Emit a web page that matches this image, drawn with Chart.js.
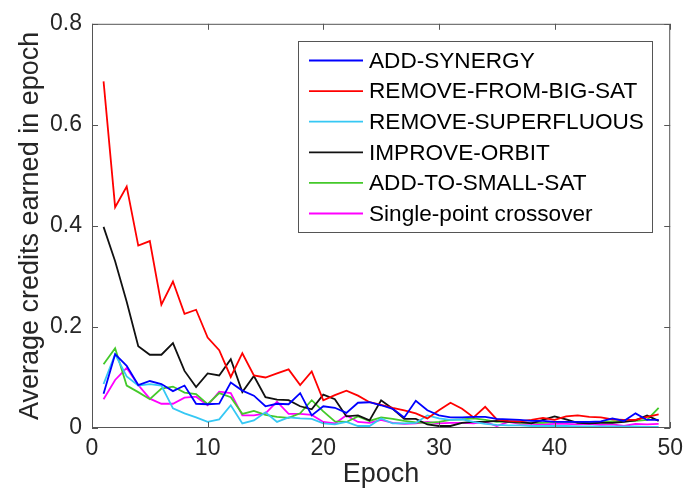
<!DOCTYPE html>
<html>
<head>
<meta charset="utf-8">
<script src="https://cdn.jsdelivr.net/npm/chart.js@4"></script>
<style>
  html, body { margin: 0; padding: 0; background: #fff; }
  #wrap { width: 690px; height: 488px; }
</style>
</head>
<body>
<div id="wrap"><canvas id="chart" width="690" height="488"></canvas></div>
<script>
// Epochs 1..49
let epochs = [];
for (let e = 1; e <= 49; e++) epochs.push(e);

let seriesNames = ["ADD-SYNERGY", "REMOVE-FROM-BIG-SAT", "REMOVE-SUPERFLUOUS", "IMPROVE-ORBIT", "ADD-TO-SMALL-SAT", "Single-point crossover"];
let seriesColors = ["#0000ff", "#ff0000", "#36c8f4", "#111111", "#44c92a", "#ff00ff"];

let addSynergy = [0.068, 0.146, 0.123, 0.085, 0.093, 0.087, 0.073, 0.084, 0.048, 0.047,
  0.048, 0.090, 0.074, 0.064, 0.043, 0.048, 0.047, 0.069, 0.025, 0.043,
  0.040, 0.030, 0.050, 0.051, 0.045, 0.038, 0.021, 0.054, 0.035, 0.025,
  0.021, 0.021, 0.022, 0.022, 0.018, 0.017, 0.016, 0.014, 0.014, 0.012,
  0.012, 0.012, 0.012, 0.013, 0.019, 0.014, 0.029, 0.016, 0.016];
let removeFromBigSat = [0.686, 0.437, 0.478, 0.361, 0.370, 0.244, 0.290, 0.226, 0.234, 0.179,
  0.154, 0.101, 0.148, 0.104, 0.100, 0.108, 0.116, 0.085, 0.112, 0.055,
  0.065, 0.074, 0.064, 0.051, 0.046, 0.040, 0.035, 0.029, 0.019, 0.035,
  0.050, 0.038, 0.021, 0.042, 0.017, 0.014, 0.013, 0.016, 0.020, 0.016,
  0.023, 0.025, 0.022, 0.021, 0.017, 0.016, 0.016, 0.022, 0.027];
let removeSuperfluous = [0.087, 0.146, 0.102, 0.084, 0.087, 0.084, 0.039, 0.029, 0.021, 0.012,
  0.017, 0.045, 0.009, 0.015, 0.031, 0.012, 0.021, 0.019, 0.018, 0.009,
  0.007, 0.012, 0.004, 0.004, 0.019, 0.009, 0.009, 0.010, 0.025, 0.019,
  0.016, 0.017, 0.012, 0.008, 0.006, 0.005, 0.005, 0.004, 0.004, 0.004,
  0.004, 0.003, 0.003, 0.003, 0.003, 0.003, 0.003, 0.002, 0.002];
let improveOrbit = [0.398, 0.330, 0.250, 0.162, 0.145, 0.145, 0.168, 0.113, 0.081, 0.108,
  0.104, 0.136, 0.071, 0.103, 0.061, 0.056, 0.055, 0.043, 0.037, 0.066,
  0.057, 0.023, 0.025, 0.015, 0.055, 0.038, 0.018, 0.018, 0.007, 0.004,
  0.004, 0.010, 0.012, 0.012, 0.014, 0.012, 0.012, 0.009, 0.016, 0.023,
  0.017, 0.010, 0.009, 0.010, 0.010, 0.012, 0.015, 0.025, 0.014];
let addToSmallSat = [0.126, 0.158, 0.084, 0.071, 0.057, 0.078, 0.082, 0.070, 0.067, 0.047,
  0.069, 0.061, 0.028, 0.034, 0.026, 0.022, 0.020, 0.029, 0.055, 0.033,
  0.013, 0.012, 0.023, 0.014, 0.021, 0.018, 0.014, 0.011, 0.010, 0.012,
  0.016, 0.017, 0.019, 0.016, 0.012, 0.013, 0.010, 0.010, 0.010, 0.012,
  0.012, 0.011, 0.012, 0.012, 0.013, 0.013, 0.014, 0.016, 0.040];
let singlePoint = [0.057, 0.095, 0.119, 0.085, 0.058, 0.048, 0.048, 0.060, 0.062, 0.045,
  0.072, 0.069, 0.025, 0.025, 0.029, 0.052, 0.028, 0.028, 0.026, 0.012,
  0.009, 0.025, 0.012, 0.010, 0.016, 0.010, 0.008, 0.009, 0.012, 0.009,
  0.010, 0.010, 0.009, 0.012, 0.004, 0.012, 0.008, 0.008, 0.007, 0.008,
  0.008, 0.007, 0.008, 0.006, 0.007, 0.004, 0.008, 0.007, 0.008];

let allSeries = [addSynergy, removeFromBigSat, removeSuperfluous, improveOrbit, addToSmallSat, singlePoint];

let xTicks = [0, 10, 20, 30, 40, 50];
let yTicks = [0, 0.2, 0.4, 0.6, 0.8];

const FONT = "'Liberation Sans', Arial, Helvetica, sans-serif";
const AXIS_COLOR = "#555555";
const TEXT_COLOR = "#262626";

// MATLAB-like box with inward ticks plus a boxed legend inside the axes
const matlabBox = {
  id: "matlabBox",
  afterDatasetsDraw(chart) {
    const ctx = chart.ctx;
    const a = chart.chartArea;
    const xs = chart.scales.x, ys = chart.scales.y;
    ctx.save();
    ctx.strokeStyle = AXIS_COLOR;
    ctx.lineWidth = 1;
    ctx.strokeRect(a.left + 0.5, a.top + 0.5, a.right - a.left - 1, a.bottom - a.top - 1);
    const tl = 6;
    ctx.beginPath();
    xTicks.forEach(v => {
      const px = Math.round(xs.getPixelForValue(v)) + 0.5;
      ctx.moveTo(px, a.bottom); ctx.lineTo(px, a.bottom - tl);
      ctx.moveTo(px, a.top); ctx.lineTo(px, a.top + tl);
    });
    yTicks.forEach(v => {
      const py = Math.round(ys.getPixelForValue(v)) + 0.5;
      ctx.moveTo(a.left, py); ctx.lineTo(a.left + tl, py);
      ctx.moveTo(a.right, py); ctx.lineTo(a.right - tl, py);
    });
    ctx.stroke();

    // legend
    const bx = 298, by = 41, bw = 354, bh = 191;
    ctx.fillStyle = "#fff";
    ctx.fillRect(bx, by, bw, bh);
    ctx.strokeRect(bx + 0.5, by + 0.5, bw, bh);
    ctx.font = "22.6px " + FONT;
    ctx.textBaseline = "middle";
    chart.data.datasets.forEach((ds, i) => {
      const cy = by + 19.5 + i * 30.6;
      ctx.strokeStyle = ds.borderColor;
      ctx.lineWidth = 1.8;
      ctx.beginPath();
      ctx.moveTo(309, cy); ctx.lineTo(363, cy);
      ctx.stroke();
      ctx.fillStyle = "#000";
      ctx.fillText(ds.label, 369, cy + 1);
    });
    ctx.restore();
  }
};

const datasets = seriesNames.map((name, i) => ({
  label: name,
  data: epochs.map((e, j) => ({ x: e, y: allSeries[i][j] })),
  borderColor: seriesColors[i],
  backgroundColor: seriesColors[i],
  borderWidth: 1.8,
  pointRadius: 0,
  tension: 0,
  fill: false
}));

new Chart(document.getElementById("chart").getContext("2d"), {
  type: "line",
  data: { datasets: datasets },
  options: {
    responsive: false,
    animation: false,
    layout: { padding: { left: 0, top: 17, right: 14, bottom: 0 } },
    plugins: { legend: { display: false }, tooltip: { enabled: false } },
    scales: {
      x: {
        type: "linear",
        min: 0, max: 50,
        afterFit: s => { s.height = 60; },
        afterBuildTicks: s => { s.ticks = xTicks.map(v => ({ value: v })); },
        grid: { display: false, drawTicks: false },
        border: { display: false },
        ticks: { color: TEXT_COLOR, font: { family: FONT, size: 23 }, padding: 7, maxRotation: 0 },
        title: { display: true, text: "Epoch", color: TEXT_COLOR, font: { family: FONT, size: 27, lineHeight: 1 }, padding: 0 }
      },
      y: {
        type: "linear",
        min: 0, max: 0.8,
        afterFit: s => { s.width = 92; },
        afterBuildTicks: s => { s.ticks = yTicks.map(v => ({ value: v })); },
        grid: { display: false, drawTicks: false },
        border: { display: false },
        ticks: { color: TEXT_COLOR, font: { family: FONT, size: 23 }, padding: 10,
          callback: v => String(Math.round(v * 10) / 10) },
        title: { display: true, text: "Average credits earned in epoch", color: TEXT_COLOR, font: { family: FONT, size: 27, lineHeight: 1.2 }, padding: { top: 14, bottom: 0 } }
      }
    }
  },
  plugins: [matlabBox]
});
</script>
</body>
</html>
